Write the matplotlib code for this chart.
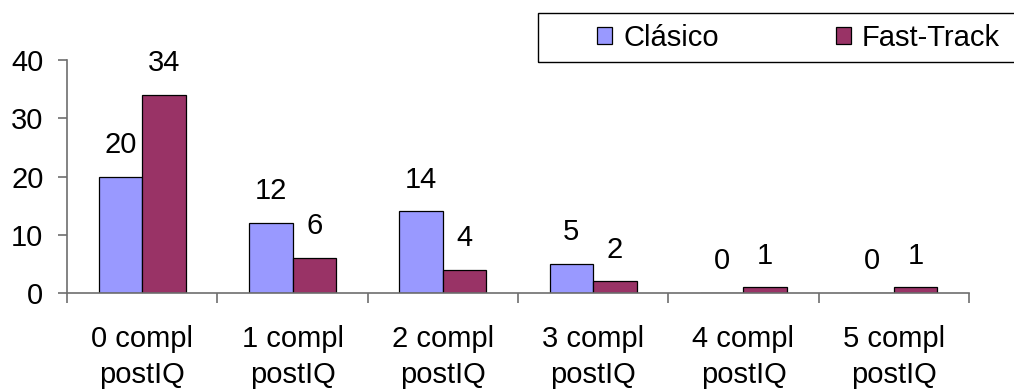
import matplotlib.pyplot as plt
from matplotlib.patches import Rectangle
import numpy as np

plt.rcParams["font.family"] = ["Liberation Sans", "DejaVu Sans"]

categories = ["0 compl\npostIQ", "1 compl\npostIQ", "2 compl\npostIQ",
              "3 compl\npostIQ", "4 compl\npostIQ", "5 compl\npostIQ"]
clasico = [20, 12, 14, 5, 0, 0]
fast_track = [34, 6, 4, 2, 1, 1]

COL_CLASICO = "#9999FF"
COL_FAST = "#993366"
AXIS_GREY = "#6e6e6e"
FS = 21

fig = plt.figure(figsize=(10.14, 3.9), dpi=100)
ax = fig.add_axes([67 / 1014, 1 - 293 / 390, (969 - 67) / 1014, (293 - 60) / 390])

x = np.arange(len(categories))
w = 0.29
b1 = ax.bar(x - w / 2, clasico, w, color=COL_CLASICO, edgecolor="black",
            linewidth=0.9, label="Clásico")
b2 = ax.bar(x + w / 2, fast_track, w, color=COL_FAST, edgecolor="black",
            linewidth=0.9, label="Fast-Track")

for bars, vals in ((b1, clasico), (b2, fast_track)):
    for rect, v in zip(bars, vals):
        ax.annotate(str(v), (rect.get_x() + rect.get_width() / 2, v),
                    xytext=(0, 17), textcoords="offset points",
                    ha="center", va="baseline", fontsize=FS)

ax.set_xlim(-0.5, len(categories) - 0.5)
ax.set_ylim(0, 40)
ax.set_yticks([0, 10, 20, 30, 40])

# category labels at centres, tick marks at the boundaries
ax.set_xticks(x)
ax.set_xticklabels(categories, fontsize=FS, linespacing=1.38)
ax.set_xticks(np.arange(-0.5, len(categories)), minor=True)
ax.tick_params(axis="x", which="major", length=0, pad=23)
ax.tick_params(axis="x", which="minor", length=7, width=1.2, color=AXIS_GREY,
               direction="out")
ax.tick_params(axis="y", length=6.5, width=1.2, color=AXIS_GREY, pad=10.5,
               labelsize=FS)

for side in ("top", "right"):
    ax.spines[side].set_visible(False)
for side in ("left", "bottom"):
    ax.spines[side].set_color(AXIS_GREY)
    ax.spines[side].set_linewidth(1.2)

# legend box running off the right edge
fig.patches.append(Rectangle((538 / 1014, 1 - 62 / 390), 0.6, 49 / 390,
                             transform=fig.transFigure, fill=False,
                             edgecolor="black", linewidth=1.0))
fig.legend(handles=[b1, b2], loc="center left",
           bbox_to_anchor=(597 / 1014, 1 - 37.5 / 390), ncol=2,
           frameon=False, fontsize=FS, borderpad=0, borderaxespad=0,
           handlelength=0.52, handleheight=0.52, handletextpad=0.38,
           columnspacing=4.0)

fig.savefig("out.png", dpi=100)
